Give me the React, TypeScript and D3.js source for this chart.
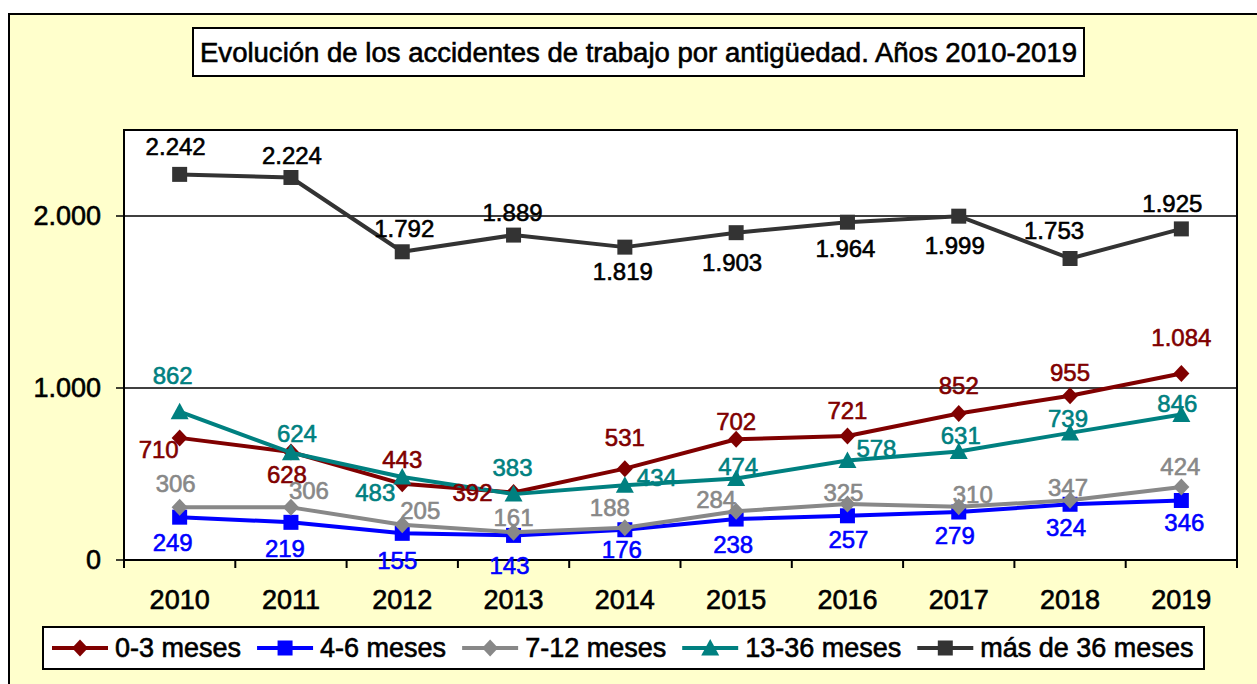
import React from "react";
import * as d3 from "d3";

const years = ["2010", "2011", "2012", "2013", "2014", "2015", "2016", "2017", "2018", "2019"];
const meses0a3 = [710, 628, 443, 392, 531, 702, 721, 852, 955, 1084];
const meses4a6 = [249, 219, 155, 143, 176, 238, 257, 279, 324, 346];
const meses7a12 = [306, 306, 205, 161, 188, 284, 325, 310, 347, 424];
const meses13a36 = [862, 624, 483, 383, 434, 474, 578, 631, 739, 846];
const mas36 = [2242, 2224, 1792, 1889, 1819, 1903, 1964, 1999, 1753, 1925];
const yTicks = [0, 1000, 2000];
const title = "Evolución de los accidentes de trabajo por antigüedad. Años 2010-2019";

// label nudges (px) relative to each point
const off0a3 = [[-21, 12], [-4, 23], [0, -24], [-41, 0], [0, -31], [0, -18], [0, -25], [0, -28], [0, -23], [0, -36]];
const off4a6 = [[-7, 25], [-6, 26], [-5, 27], [-4, 30], [-3, 20], [-3, 26], [1, 24], [-4, 24], [-4, 23], [3, 22]];
const off7a12 = [[-4, -24], [18, -17], [18, -14], [0, -15], [-15, -20], [-20, -12], [-4, -12], [14, -12], [-2, -13], [-1, -20]];
const off13a36 = [[-7, -36], [6, -19], [-27, 16], [-1, -27], [32, -8], [2, -12], [29, -12], [2, -16], [-2, -14], [-4, -11]];
const offMas36 = [[-4, -28], [1, -22], [2, -23], [-1, -22], [-2, 24], [-4, 30], [-2, 26], [-4, 29], [-16, -28], [-9, -25]];

const series = [
  { name: "0-3 meses", values: meses0a3, color: "#800000", label: "#800000", marker: "diamond", off: off0a3 },
  { name: "4-6 meses", values: meses4a6, color: "#0000FF", label: "#0000FF", marker: "square", off: off4a6 },
  { name: "7-12 meses", values: meses7a12, color: "#888888", label: "#888888", marker: "diamond", off: off7a12 },
  { name: "13-36 meses", values: meses13a36, color: "#008080", label: "#008080", marker: "triangle", off: off13a36 },
  { name: "más de 36 meses", values: mas36, color: "#333333", label: "#000000", marker: "square", off: offMas36 },
];

const W = 1257, H = 684;
const FONT = "'Liberation Sans', Arial, Helvetica, sans-serif";
const plot = { x: 124, y: 130, w: 1113, h: 430 };

const esLocale = d3.formatLocale({ decimal: ",", thousands: ".", grouping: [3], currency: ["", " €"] });
const fmt = esLocale.format(",d");

const markerPath = (type: string) => {
  if (type === "diamond") return "M0,-8.5L8,0L0,8.5L-8,0Z";
  if (type === "square") return "M-7.5,-7.5H7.5V7.5H-7.5Z";
  return "M0,-9L9,7.5H-9Z";
};

// text a touch heavier, like the reference rendering
const heavy = (sel: any, color: string) =>
  sel.attr("fill", color).attr("stroke", color).attr("stroke-width", 0.6).attr("font-family", FONT);

const App = () => {
  const ref = React.useRef<SVGSVGElement>(null);

  React.useEffect(() => {
    const svg = d3.select(ref.current);
    svg.selectAll("*").remove();

    const x = d3.scaleBand<string>().domain(years).range([plot.x, plot.x + plot.w]);
    const y = d3.scaleLinear().domain([0, 2500]).range([plot.y + plot.h, plot.y]);
    const cx = (i: number) => (x(years[i]) as number) + x.bandwidth() / 2;

    // outer frame
    svg.append("rect").attr("x", 9).attr("y", 14).attr("width", W).attr("height", H)
      .attr("fill", "#FFFFCC").attr("stroke", "#000").attr("stroke-width", 2);

    // title
    svg.append("rect").attr("x", 193).attr("y", 28).attr("width", 891).attr("height", 48)
      .attr("fill", "#fff").attr("stroke", "#000").attr("stroke-width", 2);
    heavy(svg.append("text"), "#000").attr("x", 200).attr("y", 62).attr("font-size", 27)
      .attr("textLength", 877).attr("lengthAdjust", "spacingAndGlyphs").text(title);

    // plot area
    svg.append("rect").attr("x", plot.x).attr("y", plot.y).attr("width", plot.w).attr("height", plot.h)
      .attr("fill", "#fff");

    const grid = svg.append("g");
    yTicks.forEach(t => {
      grid.append("line").attr("x1", plot.x - 8).attr("x2", t === 0 ? plot.x : plot.x + plot.w)
        .attr("y1", y(t)).attr("y2", y(t)).attr("stroke", "#000").attr("stroke-width", 1.5);
      heavy(grid.append("text"), "#000").attr("x", 101).attr("y", y(t)).attr("dy", "0.35em")
        .attr("text-anchor", "end").attr("font-size", 27).text(fmt(t));
    });

    // x ticks and labels
    d3.range(years.length + 1).forEach(i => {
      const xx = plot.x + i * x.bandwidth();
      grid.append("line").attr("x1", xx).attr("x2", xx).attr("y1", plot.y + plot.h).attr("y2", plot.y + plot.h + 8)
        .attr("stroke", "#000").attr("stroke-width", 2);
    });
    years.forEach((yr, i) => {
      heavy(grid.append("text"), "#000").attr("x", cx(i)).attr("y", 600).attr("dy", "0.35em")
        .attr("text-anchor", "middle").attr("font-size", 27).text(yr);
    });

    svg.append("rect").attr("x", plot.x).attr("y", plot.y).attr("width", plot.w).attr("height", plot.h)
      .attr("fill", "none").attr("stroke", "#000").attr("stroke-width", 2);

    // lines + markers
    const line = d3.line<number>().x((_, i) => cx(i)).y(d => y(d));
    series.forEach(s => {
      const g = svg.append("g");
      g.append("path").attr("d", line(s.values)).attr("fill", "none").attr("stroke", s.color)
        .attr("stroke-width", 4).attr("stroke-linejoin", "round");
      g.selectAll("path.m").data(s.values).enter().append("path").attr("class", "m")
        .attr("d", markerPath(s.marker)).attr("fill", s.color)
        .attr("transform", (d, i) => `translate(${cx(i)},${y(d)})`);
    });

    // data labels
    series.forEach(s => {
      heavy(svg.append("g").selectAll("text").data(s.values).enter().append("text"), s.label)
        .attr("x", (d, i) => cx(i) + s.off[i][0]).attr("y", (d, i) => y(d) + s.off[i][1])
        .attr("dy", "0.35em").attr("text-anchor", "middle").attr("font-size", 24)
        .text(d => fmt(d));
    });

    // legend
    const leg = svg.append("g");
    leg.append("rect").attr("x", 43).attr("y", 627).attr("width", 1161).attr("height", 42)
      .attr("fill", "#fff").attr("stroke", "#000").attr("stroke-width", 2);
    let lx = 52;
    const ly = 648;
    series.forEach(s => {
      leg.append("line").attr("x1", lx).attr("x2", lx + 56).attr("y1", ly).attr("y2", ly)
        .attr("stroke", s.color).attr("stroke-width", 4);
      leg.append("path").attr("d", markerPath(s.marker)).attr("fill", s.color)
        .attr("transform", `translate(${lx + 28},${ly})`);
      const t = heavy(leg.append("text"), "#000").attr("x", lx + 63).attr("y", ly).attr("dy", "0.35em")
        .attr("font-size", 27).text(s.name);
      const tw = (t.node() as SVGTextElement).getComputedTextLength();
      lx = lx + 63 + tw + 16;
    });
  }, []);

  return <svg ref={ref} width={W} height={H} style={{ position: "absolute", left: 0, top: 0, background: "#fff" }} />;
};

export default App;
